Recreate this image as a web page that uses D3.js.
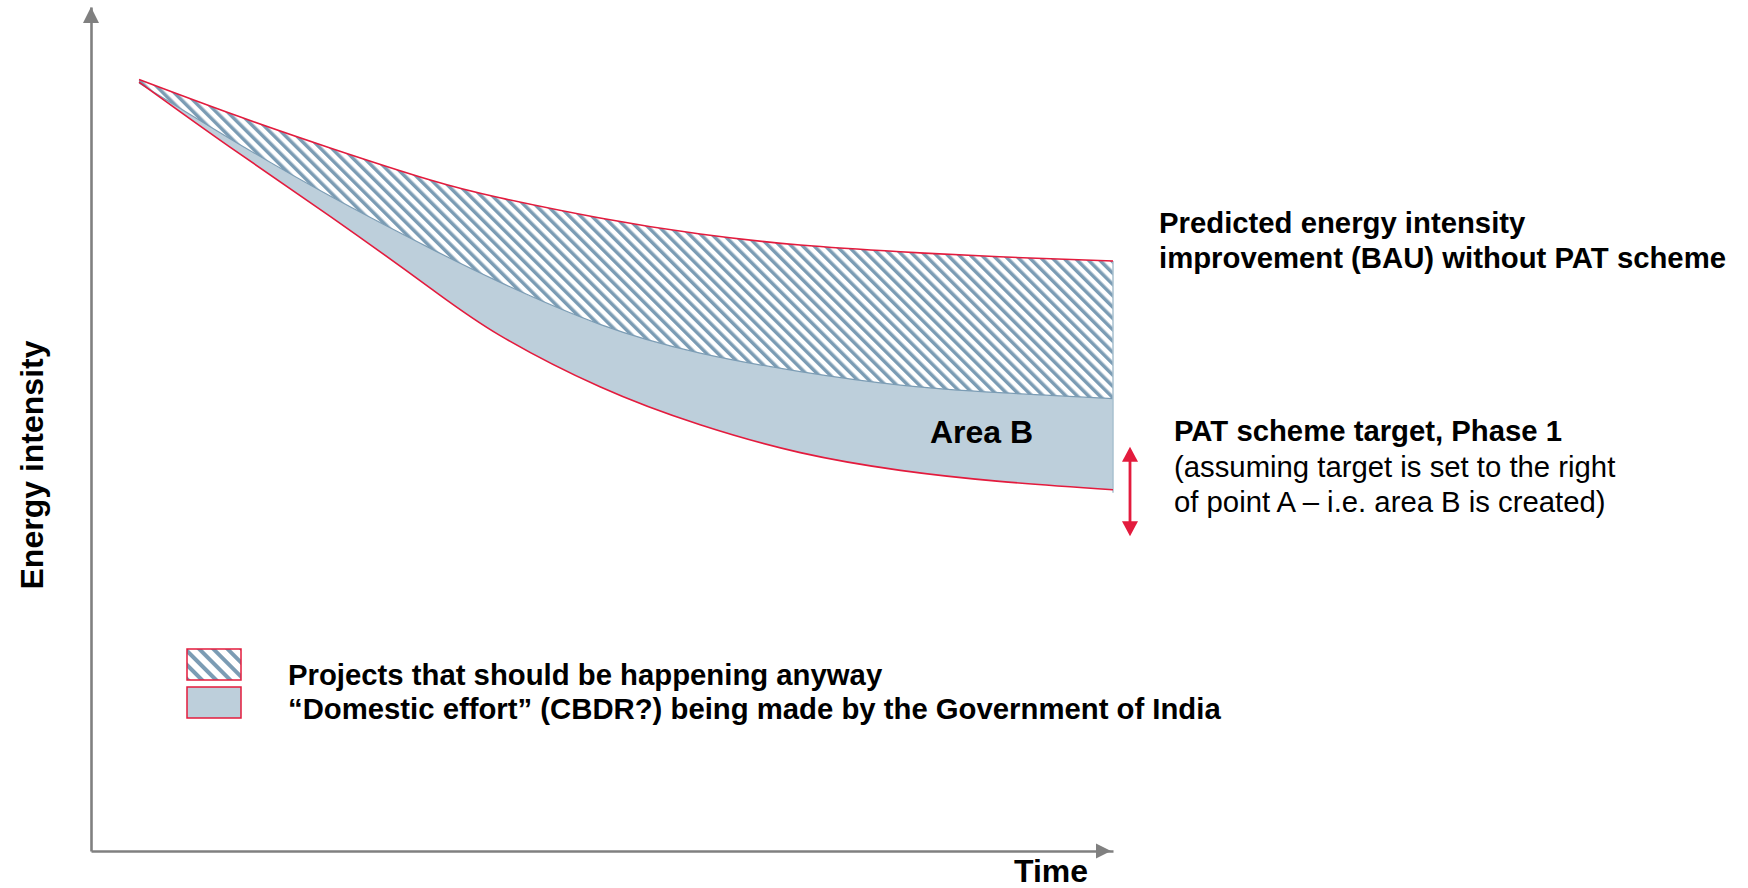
<!DOCTYPE html>
<html>
<head>
<meta charset="utf-8">
<script src="https://cdn.jsdelivr.net/npm/d3@7/dist/d3.min.js"></script>
<style>
  html, body { margin: 0; padding: 0; background: #ffffff; }
  svg { display: block; }
  text { font-family: "Liberation Sans", Arial, Helvetica, sans-serif; fill: #000; }
</style>
</head>
<body>
<svg id="chart" width="1748" height="888"></svg>
<script>
// Time (0–100) and energy intensity (0–100) along the three boundary curves
const timePoints    = [4.7, 13.6, 23.4, 33.2, 40.0, 49.8, 59.6, 69.4, 79.2, 88.9, 100];
const bauIntensity  = [91.4, 87.4, 83.3, 79.5, 77.4, 75.0, 73.1, 71.8, 71.0, 70.4, 69.9];
const anywayLevel   = [91.0, 84.4, 77.6, 71.4, 67.4, 62.4, 59.0, 56.8, 55.2, 54.3, 53.6];
const patTarget     = [91.1, 83.4, 75.2, 66.7, 61.1, 55.0, 50.5, 47.2, 45.1, 43.8, 42.8];

// Target range bracketed by the red double arrow (intensity units)
const targetRange   = [37.3, 47.9];

const axisTitles    = { x: "Time", y: "Energy intensity" };
const bauLabel      = ["Predicted energy intensity", "improvement (BAU) without PAT scheme"];
const patLabelBold  = "PAT scheme target, Phase 1";
const patLabelLines = ["(assuming target is set to the right", "of point A \u2013 i.e. area B is created)"];
const areaLabel     = "Area B";
const legendItems   = [
  { key: "anyway",   text: "Projects that should be happening anyway" },
  { key: "domestic", text: "\u201CDomestic effort\u201D (CBDR?) being made by the Government of India" }
];

const RED = "#e31b3d";
const STEEL = "#7b9cb4";
const SOLID = "#bdcfdb";
const AXIS = "#808080";

const svg = d3.select("#chart");
svg.append("rect").attr("width", 1748).attr("height", 888).attr("fill", "#fff");

const x = d3.scaleLinear().domain([0, 100]).range([91, 1113]);
const y = d3.scaleLinear().domain([0, 100]).range([851, 7]);

// Hatch patterns: diagonal stripes running top-left to bottom-right
const defs = svg.append("defs");
function hatch(id, period, stripe) {
  const p = defs.append("pattern")
    .attr("id", id)
    .attr("patternUnits", "userSpaceOnUse")
    .attr("width", period).attr("height", period)
    .attr("patternTransform", "rotate(-45)");
  p.append("rect").attr("width", period).attr("height", period).attr("fill", "#fff");
  p.append("rect").attr("width", stripe).attr("height", period).attr("fill", STEEL);
}
hatch("hatchMain", 8, 3.5);
hatch("hatchLegend", 10, 4);

const rows = timePoints.map((t, i) => ({
  t, bau: bauIntensity[i], mid: anywayLevel[i], pat: patTarget[i]
}));
const curve = d3.curveNatural;

// Solid band: domestic effort (between the anyway level and the PAT target)
svg.append("path")
  .datum(rows)
  .attr("fill", SOLID)
  .attr("d", d3.area().curve(curve).x(d => x(d.t)).y0(d => y(d.pat)).y1(d => y(d.mid)));

// Hatched band: projects happening anyway (between BAU and the anyway level)
svg.append("path")
  .datum(rows)
  .attr("fill", "url(#hatchMain)")
  .attr("d", d3.area().curve(curve).x(d => x(d.t)).y0(d => y(d.mid)).y1(d => y(d.bau)));

// Boundary between the two bands
svg.append("path")
  .datum(rows)
  .attr("fill", "none").attr("stroke", STEEL).attr("stroke-width", 1.2)
  .attr("d", d3.line().curve(curve).x(d => x(d.t)).y(d => y(d.mid)));

// Right-hand edge of the bands
const last = rows[rows.length - 1];
svg.append("line")
  .attr("x1", x(last.t)).attr("x2", x(last.t))
  .attr("y1", y(last.bau)).attr("y2", y(last.pat) + 3)
  .attr("stroke", "#a9c0cf").attr("stroke-width", 1.5);

// Red outline curves: BAU and PAT target
["bau", "pat"].forEach(k => {
  svg.append("path")
    .datum(rows)
    .attr("fill", "none").attr("stroke", RED).attr("stroke-width", 1.6)
    .attr("d", d3.line().curve(curve).x(d => x(d.t)).y(d => y(d[k])));
});

// Axes (no ticks) with arrowheads
const xAxis = svg.append("g")
  .attr("transform", `translate(0,${y(0)})`)
  .call(d3.axisBottom(x).tickValues([]).tickSizeOuter(0));
const yAxis = svg.append("g")
  .attr("transform", `translate(${x(0)},0)`)
  .call(d3.axisLeft(y).tickValues([]).tickSizeOuter(0));
[xAxis, yAxis].forEach(g => g.select(".domain").attr("stroke", AXIS).attr("stroke-width", 2.6));

const xe = x(100) - 2, y0 = y(0), x0 = x(0), ye = y(100);
svg.append("path").attr("fill", AXIS)
  .attr("d", `M${xe},${y0} L${xe - 15},${y0 - 7.5} L${xe - 15},${y0 + 7.5} Z`);
svg.append("path").attr("fill", AXIS)
  .attr("d", `M${x0},${ye} L${x0 - 8},${ye + 16} L${x0 + 8},${ye + 16} Z`);

svg.append("text")
  .attr("x", 1014).attr("y", 882)
  .attr("font-size", 32).attr("font-weight", "bold")
  .text(axisTitles.x);

svg.append("text")
  .attr("transform", `translate(43,465) rotate(-90)`)
  .attr("text-anchor", "middle")
  .attr("font-size", 32).attr("font-weight", "bold")
  .text(axisTitles.y);

// Area B label
svg.append("text")
  .attr("x", 930).attr("y", 443)
  .attr("font-size", 32).attr("font-weight", "bold")
  .text(areaLabel);

// Double-headed target arrow
const ax = 1130, aTop = y(targetRange[1]), aBot = y(targetRange[0]);
svg.append("line")
  .attr("x1", ax).attr("x2", ax).attr("y1", aTop + 10).attr("y2", aBot - 10)
  .attr("stroke", RED).attr("stroke-width", 2.8);
svg.append("path").attr("fill", RED)
  .attr("d", `M${ax},${aTop} L${ax - 8},${aTop + 15} L${ax + 8},${aTop + 15} Z`);
svg.append("path").attr("fill", RED)
  .attr("d", `M${ax},${aBot} L${ax - 8},${aBot - 15} L${ax + 8},${aBot - 15} Z`);

// BAU annotation
bauLabel.forEach((s, i) => {
  svg.append("text")
    .attr("x", 1159).attr("y", 233 + i * 35)
    .attr("font-size", 29.3).attr("font-weight", "bold")
    .text(s);
});

// PAT target annotation
svg.append("text")
  .attr("x", 1174).attr("y", 441)
  .attr("font-size", 29.3).attr("font-weight", "bold")
  .text(patLabelBold);
patLabelLines.forEach((s, i) => {
  svg.append("text")
    .attr("x", 1174).attr("y", 477 + i * 35)
    .attr("font-size", 29.3)
    .text(s);
});

// Legend
const legend = svg.append("g");
legendItems.forEach((item, i) => {
  const top = 649 + i * 38;
  legend.append("rect")
    .attr("x", 187).attr("y", top).attr("width", 54).attr("height", 31)
    .attr("fill", item.key === "anyway" ? "url(#hatchLegend)" : SOLID)
    .attr("stroke", RED).attr("stroke-width", 1.5);
  legend.append("text")
    .attr("x", 288).attr("y", 685 + i * 34)
    .attr("font-size", 29.3).attr("font-weight", "bold")
    .text(item.text);
});
</script>
</body>
</html>
